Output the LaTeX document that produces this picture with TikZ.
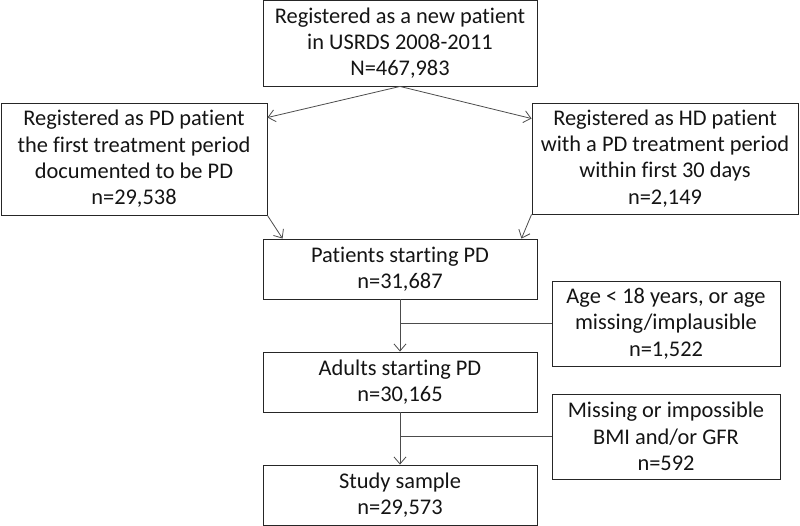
\documentclass[tikz,border=0pt]{standalone}
\usepackage{fontspec}
\setmainfont[Ligatures=NoCommon]{Carlito}
\usetikzlibrary{arrows.meta,calc}
\begin{document}
\begin{tikzpicture}[x=1pt,y=-1pt,
  box/.style={draw=black!85,line width=0.9pt,rectangle,align=center,inner sep=0pt,
    font=\fontsize{22.4}{26.3}\selectfont,text=black!92},
  conn/.style={draw=black!70,line width=0.8pt},
  arr/.style={conn,-{Straight Barb[length=7pt,width=12pt,line width=0.8pt]}}]
\useasboundingbox (0,0) rectangle (800,526);
\node[box,minimum width=274pt,minimum height=86pt] (top) at (400,43) {Registered as a new patient\\in USRDS 2008-2011\\N=467,983};
\node[box,minimum width=266pt,minimum height=112pt] (left) at (134,159) {Registered as PD patient\\the first treatment period\\documented to be PD\\n=29,538};
\node[box,minimum width=266pt,minimum height=111pt] (right) at (665,158.5) {Registered as HD patient\\with a PD treatment period\\within first 30 days\\n=2,149};
\node[box,minimum width=274pt,minimum height=60pt] (pat) at (400,269) {Patients starting PD\\n=31,687};
\node[box,minimum width=274pt,minimum height=60pt] (adu) at (400,382) {Adults starting PD\\n=30,165};
\node[box,minimum width=274pt,minimum height=60pt] (stu) at (400,495) {Study sample\\n=29,573};
\node[box,minimum width=228pt,minimum height=85pt] (ex1) at (666,323.5) {Age < 18 years, or age\\missing/implausible\\n=1,522};
\node[box,minimum width=228pt,minimum height=85pt] (ex2) at (666,436.5) {Missing or impossible\\BMI and/or GFR\\n=592};
\coordinate (lt) at ($(left.north east)+(0,15)$);
\coordinate (rt) at ($(right.north west)+(0,16)$);
\draw[arr] (top.south) -- (lt);
\draw[arr] (top.south) -- (rt);
\coordinate (pl) at ($(pat.north west)+(20,0)$);
\coordinate (pr) at ($(pat.north east)+(-16,0)$);
\draw[arr] (left.south east) -- (pl);
\draw[arr] (right.south west) -- (pr);
\draw[arr] (pat.south) -- (adu.north);
\draw[arr] (adu.south) -- (stu.north);
\draw[conn] (ex1.west) -- (ex1.west -| pat.south);
\draw[conn] (ex2.west) -- (ex2.west -| adu.south);
\end{tikzpicture}
\end{document}
